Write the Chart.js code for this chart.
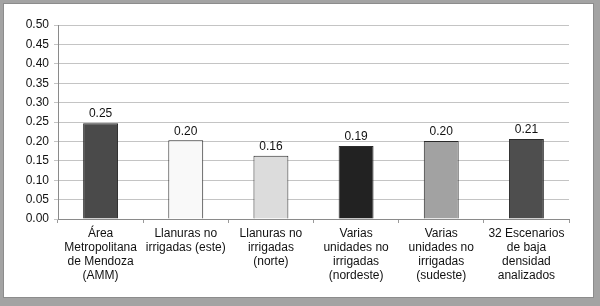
<!DOCTYPE html>
<html>
<head>
<meta charset="utf-8">
<script src="https://cdn.jsdelivr.net/npm/chart.js@4.4.0/dist/chart.umd.min.js"></script>
<style>
  html, body { margin: 0; padding: 0; }
  body { width: 600px; height: 306px; background: #a3a3a3; position: relative; overflow: hidden; }
  #frame { position: absolute; left: 3px; top: 3px; width: 589px; height: 293px; background: #fff; border: 1px solid #8c8c8c; }
  #wrap { position: absolute; left: 0; top: 0; width: 600px; height: 306px; }
</style>
</head>
<body>
<div id="frame"></div>
<div id="wrap"><canvas id="chart"></canvas></div>
<script>
const categories = [
    ['Área', 'Metropolitana', 'de Mendoza', '(AMM)'],
    ['Llanuras no', 'irrigadas (este)'],
    ['Llanuras no', 'irrigadas', '(norte)'],
    ['Varias', 'unidades no', 'irrigadas', '(nordeste)'],
    ['Varias', 'unidades no', 'irrigadas', '(sudeste)'],
    ['32 Escenarios', 'de baja', 'densidad', 'analizados'],
];
const values = [0.247, 0.203, 0.163, 0.188, 0.201, 0.206];
const valueLabels = ['0.25', '0.20', '0.16', '0.19', '0.20', '0.21'];
const barColors = ['#4a4a4a', '#f9f9f9', '#dcdcdc', '#222222', '#a2a2a2', '#4e4e4e'];
const yTicks = [0, 0.05, 0.10, 0.15, 0.20, 0.25, 0.30, 0.35, 0.40, 0.45, 0.50];

const fontFamily = '"Liberation Sans", Arial, sans-serif';

// draw the value above each bar
const valueLabelPlugin = {
    id: 'valueLabels',
    afterDatasetsDraw(chart) {
        const ctx = chart.ctx;
        const meta = chart.getDatasetMeta(0);
        ctx.save();
        ctx.font = '12px ' + fontFamily;
        ctx.fillStyle = '#111';
        ctx.textAlign = 'center';
        ctx.textBaseline = 'bottom';
        meta.data.forEach((bar, i) => {
            ctx.fillText(valueLabels[i], bar.x, bar.y - 3);
        });
        ctx.restore();
    }
};

const canvas = document.getElementById('chart');
new Chart(canvas.getContext('2d'), {
    type: 'bar',
    data: {
        labels: categories,
        datasets: [{
            data: values,
            backgroundColor: barColors,
            borderColor: '#2a2a2a',
            borderWidth: 1,
            barPercentage: 0.41,
            categoryPercentage: 1.0,
        }],
    },
    options: {
        responsive: true,
        maintainAspectRatio: false,
        animation: false,
        layout: {
            padding: { left: 0, right: 31, top: 25, bottom: 0 },
        },
        plugins: {
            legend: { display: false },
            tooltip: { enabled: false },
        },
        scales: {
            x: {
                grid: {
                    offset: true,
                    drawOnChartArea: false,
                    drawTicks: true,
                    tickLength: 4,
                    color: '#9a9a9a',
                },
                border: { color: '#8a8a8a' },
                ticks: {
                    autoSkip: false,
                    maxRotation: 0,
                    minRotation: 0,
                    padding: 4,
                    color: '#111',
                    font: { family: fontFamily, size: 12, lineHeight: 1.17 },
                },
                afterFit(scale) { scale.height = 87; },
            },
            y: {
                min: 0,
                max: 0.5,
                afterBuildTicks(scale) {
                    scale.ticks = yTicks.map(v => ({ value: v }));
                },
                ticks: {
                    padding: 5,
                    color: '#111',
                    font: { family: fontFamily, size: 12 },
                    callback: v => v.toFixed(2),
                },
                grid: {
                    color: '#c4c4c4',
                    tickLength: 4,
                },
                border: { color: '#8a8a8a' },
                afterFit(scale) { scale.width = 58; },
            },
        },
    },
    plugins: [valueLabelPlugin],
});
</script>
</body>
</html>
